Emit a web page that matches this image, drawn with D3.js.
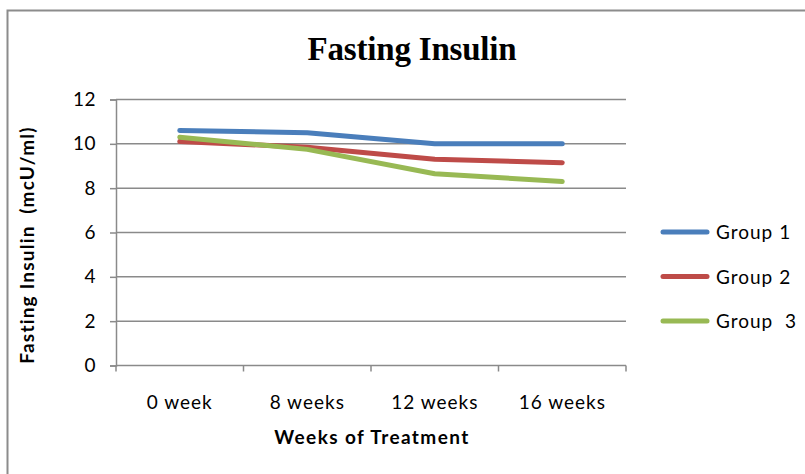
<!DOCTYPE html>
<html>
<head>
<meta charset="utf-8">
<script src="https://cdn.jsdelivr.net/npm/d3@7"></script>
<style>
  body { margin: 0; background: #fff; }
  svg { display: block; }
</style>
</head>
<body>
<svg width="805" height="474"></svg>
<script>
var categories = ["0 week", "8 weeks", "12 weeks", "16 weeks"];
var group1 = [10.6, 10.5, 10.0, 10.0];
var group2 = [10.1, 9.85, 9.3, 9.15];
var group3 = [10.3, 9.75, 8.65, 8.3];
var seriesNames = ["Group 1", "Group 2", "Group  3"];
var yTicks = [0, 2, 4, 6, 8, 10, 12];

var series = [
  { name: seriesNames[0], values: group1, color: "#4a7ebb" },
  { name: seriesNames[1], values: group2, color: "#be4b48" },
  { name: seriesNames[2], values: group3, color: "#98b954" }
];

var svg = d3.select("svg");
var font = "Lato, 'Open Sans', sans-serif";

// outer chart border (continues off the bottom/right)
svg.append("rect")
  .attr("x", 7.5).attr("y", 10.5)
  .attr("width", 820).attr("height", 490)
  .attr("fill", "none")
  .attr("stroke", "#8c8c8c")
  .attr("stroke-width", 2);

var x = d3.scaleBand().domain(categories).range([116, 626]);
var y = d3.scaleLinear().domain([0, 12]).range([365.5, 99.5]);

// gridlines
svg.append("g")
  .selectAll("line")
  .data(yTicks.slice(1))
  .enter().append("line")
    .attr("x1", 116).attr("x2", 626)
    .attr("y1", function(d){ return y(d); })
    .attr("y2", function(d){ return y(d); })
    .attr("stroke", "#8a8a8a")
    .attr("stroke-width", 1.5);

// y axis
var yAxis = svg.append("g")
  .attr("transform", "translate(116,0)")
  .call(d3.axisLeft(y).tickValues(yTicks).tickSize(6).tickPadding(14));
yAxis.select(".domain").attr("stroke", "#8a8a8a").attr("stroke-width", 1.5);
yAxis.selectAll(".tick line").attr("stroke", "#8a8a8a").attr("stroke-width", 1.5);
yAxis.selectAll("text")
  .attr("font-family", font)
  .attr("font-size", 19)
  .attr("letter-spacing", 0.5)
  .attr("fill", "#000");

// x axis, ticks at category boundaries
var xAxisG = svg.append("g").attr("transform", "translate(0,365.5)");
xAxisG.append("line")
  .attr("x1", 116).attr("x2", 626)
  .attr("stroke", "#8a8a8a").attr("stroke-width", 1.5);
var bounds = categories.map(function(c){ return x(c); }).concat([626]);
xAxisG.selectAll(".xt")
  .data(bounds)
  .enter().append("line")
    .attr("class", "xt")
    .attr("x1", function(d){ return d; })
    .attr("x2", function(d){ return d; })
    .attr("y1", 0).attr("y2", 6)
    .attr("stroke", "#8a8a8a").attr("stroke-width", 1.5);
xAxisG.selectAll(".xl")
  .data(categories)
  .enter().append("text")
    .attr("class", "xl")
    .attr("x", function(d){ return x(d) + x.bandwidth() / 2; })
    .attr("y", 43)
    .attr("text-anchor", "middle")
    .attr("font-family", font)
    .attr("font-size", 19)
    .attr("letter-spacing", 1)
    .text(function(d){ return d; });

// lines
var line = d3.line()
  .x(function(d, i){ return x(categories[i]) + x.bandwidth() / 2; })
  .y(function(d){ return y(d); });

svg.append("g")
  .selectAll("path")
  .data(series)
  .enter().append("path")
    .attr("d", function(d){ return line(d.values); })
    .attr("fill", "none")
    .attr("stroke", function(d){ return d.color; })
    .attr("stroke-width", 5)
    .attr("stroke-linecap", "round")
    .attr("stroke-linejoin", "round");

// title
svg.append("text")
  .attr("x", 412).attr("y", 60)
  .attr("text-anchor", "middle")
  .attr("font-family", "'Liberation Serif', 'Times New Roman', serif")
  .attr("font-weight", "bold")
  .attr("font-size", 33)
  .attr("letter-spacing", -0.2)
  .text("Fasting Insulin");

// axis titles
svg.append("text")
  .attr("x", 372).attr("y", 444)
  .attr("text-anchor", "middle")
  .attr("font-family", font)
  .attr("font-weight", "bold")
  .attr("font-size", 19)
  .attr("letter-spacing", 1.4)
  .text("Weeks of Treatment");

svg.append("text")
  .attr("transform", "translate(34,245) rotate(-90)")
  .attr("text-anchor", "middle")
  .attr("font-family", font)
  .attr("font-weight", "bold")
  .attr("font-size", 19)
  .attr("letter-spacing", 1.2)
  .attr("xml:space", "preserve")
  .style("white-space", "pre")
  .text("Fasting Insulin  (mcU/ml)");

// legend
var legend = svg.append("g")
  .selectAll("g")
  .data(series)
  .enter().append("g")
    .attr("transform", function(d, i){ return "translate(0," + (232 + i * 44.5) + ")"; });
legend.append("line")
  .attr("x1", 663).attr("x2", 707)
  .attr("stroke", function(d){ return d.color; })
  .attr("stroke-width", 5)
  .attr("stroke-linecap", "round");
legend.append("text")
  .attr("x", 716).attr("y", 7)
  .attr("font-family", font)
  .attr("font-size", 19)
  .attr("letter-spacing", 1)
  .attr("xml:space", "preserve")
  .style("white-space", "pre")
  .text(function(d){ return d.name; });
</script>
</body>
</html>
